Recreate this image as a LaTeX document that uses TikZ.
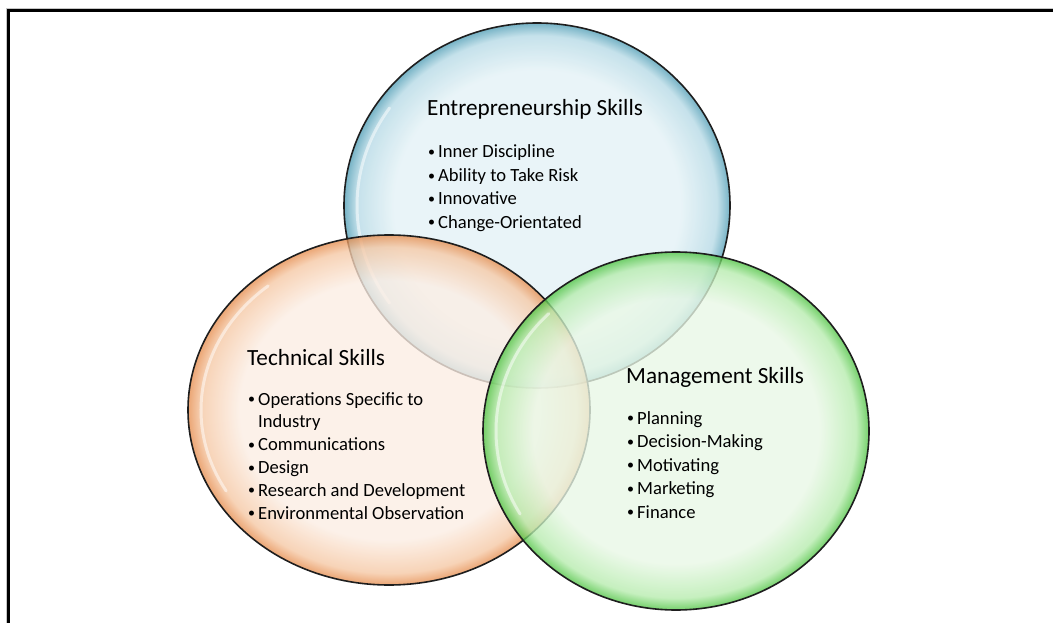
\documentclass[tikz,border=0pt]{standalone}
\usepackage{fontspec}
\setmainfont{Carlito}
\definecolor{bIn}{HTML}{E6F3F7}
\definecolor{bMid}{HTML}{BCDDE8}
\definecolor{bOut}{HTML}{5FA6BC}
\definecolor{oIn}{HTML}{FCEEE4}
\definecolor{oMid}{HTML}{F6C8A4}
\definecolor{oOut}{HTML}{E68D4E}
\definecolor{gIn}{HTML}{E9F8E6}
\definecolor{gMid}{HTML}{B6ECAD}
\definecolor{gOut}{HTML}{4FC443}
\definecolor{rim}{HTML}{1E1E1E}
\pgfdeclareradialshading{bblue}{\pgfpoint{0bp}{0bp}}{color(0bp)=(bIn); color(18.5bp)=(bIn); color(23.3bp)=(bMid); color(25bp)=(bOut); color(50bp)=(bOut)}
\pgfdeclareradialshading{borange}{\pgfpoint{0bp}{0bp}}{color(0bp)=(oIn); color(18.5bp)=(oIn); color(23.3bp)=(oMid); color(25bp)=(oOut); color(50bp)=(oOut)}
\pgfdeclareradialshading{bgreen}{\pgfpoint{0bp}{0bp}}{color(0bp)=(gIn); color(18.5bp)=(gIn); color(23.3bp)=(gMid); color(25bp)=(gOut); color(50bp)=(gOut)}
\newcommand\bul{\makebox[10pt][l]{\raisebox{1.3pt}{\fontsize{14}{14}\selectfont\textbullet}}}
\tikzset{
  heading/.style={inner sep=0pt, anchor=base west, font=\fontsize{23.2}{27}\selectfont},
  itemlist/.style={inner sep=0pt, anchor=base west},
  rimline/.style={draw=rim, line width=1.6pt},
  gloss/.style={white, line width=3pt, opacity=0.5, line cap=round}
}
\begin{document}
\begin{tikzpicture}[x=1pt,y=-1pt]
\useasboundingbox (0,0) rectangle (1053,623);
\fill[white] (0,0) rectangle (1053,623);
% frame
\draw[gray!45, line width=1pt] (6.3,700) -- (6.3,8.5) -- (1100,8.5);
\draw[black, line width=3pt] (8.5,700) -- (8.5,11) -- (1100,11);
% blue (Entrepreneurship)
\shade[shading=bblue, opacity=0.85] (537,205.5) ellipse [x radius=193, y radius=182.5];
\draw[gloss] ([shift={(145:180 and 170)}]537,205.5) arc[start angle=145, end angle=215, x radius=180, y radius=170];
\draw[rimline] (537,205.5) ellipse [x radius=193, y radius=182.5];
% orange (Technical)
\shade[shading=borange, opacity=0.78] (389,410) ellipse [x radius=201, y radius=175];
\draw[gloss] ([shift={(150:188 and 162)}]389,410) arc[start angle=150, end angle=230, x radius=188, y radius=162];
\draw[rimline] (389,410) ellipse [x radius=201, y radius=175];
% green (Management)
\shade[shading=bgreen, opacity=0.78] (676,431) ellipse [x radius=193, y radius=179];
\draw[gloss] ([shift={(150:180 and 166)}]676,431) arc[start angle=150, end angle=225, x radius=180, y radius=166];
\draw[rimline] (676,431) ellipse [x radius=193, y radius=179];
% texts
\node[heading] (et) at (427,116) {Entrepreneurship Skills};
\node[itemlist] (el) at (428,158) {\fontsize{18.6}{23.4}\selectfont\parbox[t]{240pt}{\bul Inner Discipline\\ \bul Ability to Take Risk\\ \bul Innovative\\ \bul Change-Orientated}};
\node[heading] (tt) at (247,365) {Technical Skills};
\node[itemlist] (tl) at (248,405) {\fontsize{18.6}{22.8}\selectfont\parbox[t]{260pt}{\bul Operations Specific to\\ \hspace*{10pt}Industry\\ \bul Communications\\ \bul Design\\ \bul Research and Development\\ \bul Environmental Observation}};
\node[heading] (mt) at (626,383) {Management Skills};
\node[itemlist] (ml) at (627,424) {\fontsize{18.6}{23.5}\selectfont\parbox[t]{220pt}{\bul Planning\\ \bul Decision-Making\\ \bul Motivating\\ \bul Marketing\\ \bul Finance}};
\end{tikzpicture}
\end{document}
